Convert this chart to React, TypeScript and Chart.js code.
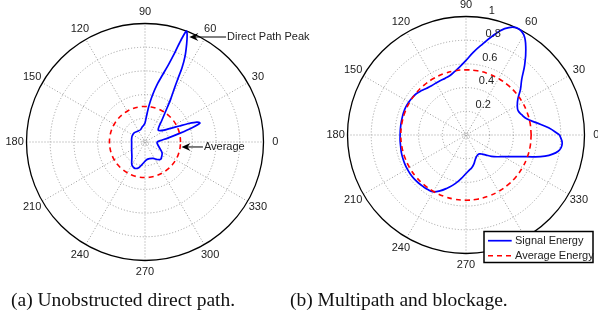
import React, { useEffect, useRef } from "react";
import { Chart, registerables } from "chart.js";
Chart.register(...registerables);

// ---------- data ----------
const ANGLE_TICKS = [0, 30, 60, 90, 120, 150, 180, 210, 240, 270, 300, 330];
const RING_TICKS = [0.2, 0.4, 0.6, 0.8, 1];
const RADIAL_TICK_LABELS = ["0.2", "0.4", "0.6", "0.8", "1"];
const SERIES_LABELS = ["Signal Energy", "Average Energy"];
const CAPTIONS = ["(a) Unobstructed direct path.", "(b) Multipath and blockage."];

// panel (a): angle (deg) and normalised energy
const A_THETA = [0, 5, 10, 14, 17, 19, 21, 23, 25, 28, 32, 37, 42, 47, 52, 56, 59, 61, 62.5, 63.5, 65, 67, 68.5, 69.5, 70.5, 71.5, 73, 75.5, 78, 81, 84, 87, 90, 95, 100, 110, 125, 140, 155, 170, 185, 200, 215, 228, 240, 249, 257, 265, 275, 285, 297, 305, 312, 320, 328, 337, 347, 355, 360];
const A_SIGNAL = [0.10, 0.13, 0.20, 0.30, 0.42, 0.49, 0.47, 0.40, 0.32, 0.245, 0.19, 0.16, 0.15, 0.17, 0.23, 0.31, 0.42, 0.50, 0.60, 0.70, 0.80, 0.90, 0.97, 1.0, 0.92, 0.80, 0.69, 0.58, 0.50, 0.40, 0.30, 0.21, 0.16, 0.14, 0.13, 0.11, 0.11, 0.12, 0.12, 0.115, 0.113, 0.12, 0.137, 0.165, 0.222, 0.238, 0.22, 0.18, 0.15, 0.145, 0.155, 0.18, 0.197, 0.185, 0.17, 0.135, 0.112, 0.102, 0.10];
const A_AVERAGE = 0.30;

// panel (b)
const B_THETA = [0, 5, 10, 15, 20, 25, 30, 35, 40, 45, 50, 55, 60, 65, 70, 75, 80, 85, 90, 95, 100, 105, 110, 115, 120, 125, 130, 135, 140, 145, 150, 155, 160, 165, 170, 175, 180, 185, 190, 195, 200, 205, 210, 215, 220, 225, 230, 235, 240, 245, 250, 255, 260, 265, 270, 275, 280, 285, 290, 295, 300, 305, 310, 315, 320, 325, 330, 335, 340, 345, 350, 355, 360];
const B_SIGNAL = [0.79, 0.70, 0.60, 0.53, 0.50, 0.485, 0.50, 0.535, 0.60, 0.665, 0.77, 0.88, 0.975, 1.0, 0.955, 0.865, 0.775, 0.70, 0.63, 0.58, 0.545, 0.52, 0.51, 0.507, 0.507, 0.507, 0.515, 0.53, 0.545, 0.552, 0.557, 0.56, 0.56, 0.558, 0.557, 0.556, 0.556, 0.558, 0.56, 0.565, 0.568, 0.571, 0.573, 0.574, 0.573, 0.57, 0.566, 0.562, 0.553, 0.52, 0.48, 0.44, 0.40, 0.36, 0.325, 0.30, 0.28, 0.255, 0.225, 0.205, 0.195, 0.195, 0.21, 0.24, 0.28, 0.32, 0.365, 0.43, 0.535, 0.69, 0.79, 0.815, 0.79];
const B_AVERAGE = 0.55;

const AVG_THETA = [0, 10, 20, 30, 40, 50, 60, 70, 80, 90, 100, 110, 120, 130, 140, 150, 160, 170, 180, 190, 200, 210, 220, 230, 240, 250, 260, 270, 280, 290, 300, 310, 320, 330, 340, 350, 360];

// ---------- helpers ----------
const FONT = '11px "Liberation Sans", Arial, Helvetica, sans-serif';
const D2R = Math.PI / 180;
const toXY = (theta: number[], r: number[]) =>
  theta.map((t, i) => ({ x: r[i] * Math.cos(t * D2R), y: r[i] * Math.sin(t * D2R) }));
const circleXY = (r: number) => toXY(AVG_THETA, AVG_THETA.map(() => r));

const polarPlugin = {
  id: "polarGrid",
  beforeDatasetsDraw(chart: any) {
    const { ctx } = chart;
    const xs = chart.scales.x, ys = chart.scales.y;
    const cx = xs.getPixelForValue(0), cy = ys.getPixelForValue(0);
    const R = xs.getPixelForValue(1) - cx;
    ctx.save();
    ctx.strokeStyle = "#9a9a9a";
    ctx.lineWidth = 1;
    ctx.setLineDash([1, 2]);
    for (const t of RING_TICKS.slice(0, -1)) {
      ctx.beginPath();
      ctx.arc(cx, cy, t * R, 0, 2 * Math.PI);
      ctx.stroke();
    }
    ctx.beginPath();
    ctx.arc(cx, cy, 3, 0, 2 * Math.PI);
    ctx.stroke();
    for (const a of ANGLE_TICKS.slice(0, 6)) {
      const c = Math.cos(a * D2R), s = Math.sin(a * D2R);
      ctx.beginPath();
      ctx.moveTo(cx - c * R, cy + s * R);
      ctx.lineTo(cx + c * R, cy - s * R);
      ctx.stroke();
    }
    ctx.setLineDash([]);
    ctx.strokeStyle = "#000";
    ctx.lineWidth = 1.3;
    ctx.beginPath();
    ctx.arc(cx, cy, R, 0, 2 * Math.PI);
    ctx.stroke();
    ctx.restore();
  },
  afterDatasetsDraw(chart: any, _args: any, opts: any) {
    const { ctx } = chart;
    const xs = chart.scales.x, ys = chart.scales.y;
    const cx = xs.getPixelForValue(0), cy = ys.getPixelForValue(0);
    const R = xs.getPixelForValue(1) - cx;
    ctx.save();
    ctx.font = FONT;
    ctx.fillStyle = "#222";
    ctx.textAlign = "center";
    ctx.textBaseline = "middle";
    for (const a of ANGLE_TICKS) {
      ctx.fillText(String(a), cx + 1.1 * R * Math.cos(a * D2R), cy - 1.1 * R * Math.sin(a * D2R));
    }
    if (opts.radialLabels) {
      ctx.textAlign = "left";
      ctx.textBaseline = "bottom";
      RING_TICKS.forEach((t, i) => {
        const rr = (t + 0.01) * R;
        ctx.fillText("  " + RADIAL_TICK_LABELS[i], cx + rr * Math.cos(82 * D2R), cy - rr * Math.sin(82 * D2R));
      });
    }
    // annotations with arrows
    for (const an of opts.annotations || []) {
      const tx = cx + an.tip[0] * R, ty = cy - an.tip[1] * R;
      const ex = cx + an.tail * R;
      ctx.strokeStyle = "#000";
      ctx.fillStyle = "#000";
      ctx.lineWidth = 1;
      ctx.beginPath();
      ctx.moveTo(ex, ty);
      ctx.lineTo(tx + 5, ty);
      ctx.stroke();
      ctx.beginPath();
      ctx.moveTo(tx, ty);
      ctx.lineTo(tx + 9, ty - 4);
      ctx.lineTo(tx + 6, ty);
      ctx.lineTo(tx + 9, ty + 4);
      ctx.closePath();
      ctx.fill();
      ctx.fillStyle = "#222";
      ctx.textAlign = "left";
      ctx.textBaseline = "middle";
      ctx.fillText(an.text, ex + 1, ty);
    }
    // legend box
    if (opts.legend) {
      const L = opts.legend;
      ctx.fillStyle = "#fff";
      ctx.fillRect(L.x, L.y, L.w, L.h);
      ctx.strokeStyle = "#000";
      ctx.lineWidth = 1.5;
      ctx.strokeRect(L.x, L.y, L.w, L.h);
      chart.data.datasets.forEach((ds: any, i: number) => {
        const yy = L.y + 9.2 + i * 15;
        ctx.strokeStyle = ds.borderColor;
        ctx.lineWidth = ds.borderWidth;
        ctx.setLineDash(ds.borderDash || []);
        ctx.beginPath();
        ctx.moveTo(L.x + 4, yy);
        ctx.lineTo(L.x + 27.7, yy);
        ctx.stroke();
        ctx.setLineDash([]);
        ctx.fillStyle = "#222";
        ctx.textAlign = "left";
        ctx.textBaseline = "middle";
        ctx.fillText(ds.label, L.x + 31, yy);
      });
    }
    ctx.restore();
  },
};

type PanelProps = {
  width: number; height: number; left: number;
  cx: number; cy: number; R: number; S: number;
  theta: number[]; signal: number[]; average: number; tension: number;
  extra: any;
};

function PolarPanel(p: PanelProps) {
  const ref = useRef<HTMLCanvasElement | null>(null);
  useEffect(() => {
    if (!ref.current) return;
    const s = p.S / p.R;
    const chart = new Chart(ref.current, {
      type: "scatter",
      data: {
        datasets: [
          {
            label: SERIES_LABELS[0],
            data: toXY(p.theta, p.signal),
            showLine: true,
            borderColor: "#0000ff",
            borderWidth: 1.7,
            pointRadius: 0,
            tension: p.tension,
            order: 1,
          },
          {
            label: SERIES_LABELS[1],
            data: circleXY(p.average),
            showLine: true,
            borderColor: "#ff0000",
            borderWidth: 1.6,
            borderDash: [5, 4],
            pointRadius: 0,
            tension: 0.4,
            order: 0,
          },
        ],
      },
      options: {
        responsive: false,
        animation: false,
        devicePixelRatio: 1,
        events: [],
        layout: {
          padding: {
            left: p.cx - p.S,
            right: p.width - (p.cx + p.S),
            top: p.cy - p.S,
            bottom: p.height - (p.cy + p.S),
          },
        },
        scales: {
          x: { type: "linear", min: -s, max: s, display: false },
          y: { type: "linear", min: -s, max: s, display: false },
        },
        plugins: {
          legend: { display: false },
          tooltip: { enabled: false },
          polarGrid: p.extra,
        } as any,
      },
      plugins: [polarPlugin as any],
    } as any);
    return () => chart.destroy();
  }, []);
  return (
    <canvas
      ref={ref}
      width={p.width}
      height={p.height}
      style={{ position: "absolute", left: p.left, top: 0, width: p.width, height: p.height }}
    />
  );
}

export default function App() {
  const captionStyle: React.CSSProperties = {
    position: "absolute",
    top: 289,
    fontFamily: '"Liberation Serif", "Times New Roman", serif',
    fontSize: 19.5,
    lineHeight: "22px",
    color: "#111",
    whiteSpace: "nowrap",
  };
  return (
    <div style={{ position: "absolute", left: 0, top: 0, width: 598, height: 325, background: "#fff", overflow: "hidden" }}>
      <PolarPanel
        width={330} height={290} left={0}
        cx={145} cy={142} R={118.5} S={140}
        theta={A_THETA} signal={A_SIGNAL} average={A_AVERAGE} tension={0.25}
        extra={{
          annotations: [
            { text: "Direct Path Peak", tip: [0.374, 0.886], tail: 0.684 },
            { text: "Average", tip: [0.308, -0.042], tail: 0.489 },
          ],
        }}
      />
      <PolarPanel
        width={298} height={290} left={300}
        cx={166} cy={135} R={118.5} S={130}
        theta={B_THETA} signal={B_SIGNAL} average={B_AVERAGE} tension={0.4}
        extra={{ radialLabels: true, legend: { x: 184, y: 231.5, w: 109, h: 31 } }}
      />
      <div style={{ ...captionStyle, left: 11 }}>{CAPTIONS[0]}</div>
      <div style={{ ...captionStyle, left: 290 }}>{CAPTIONS[1]}</div>
    </div>
  );
}
